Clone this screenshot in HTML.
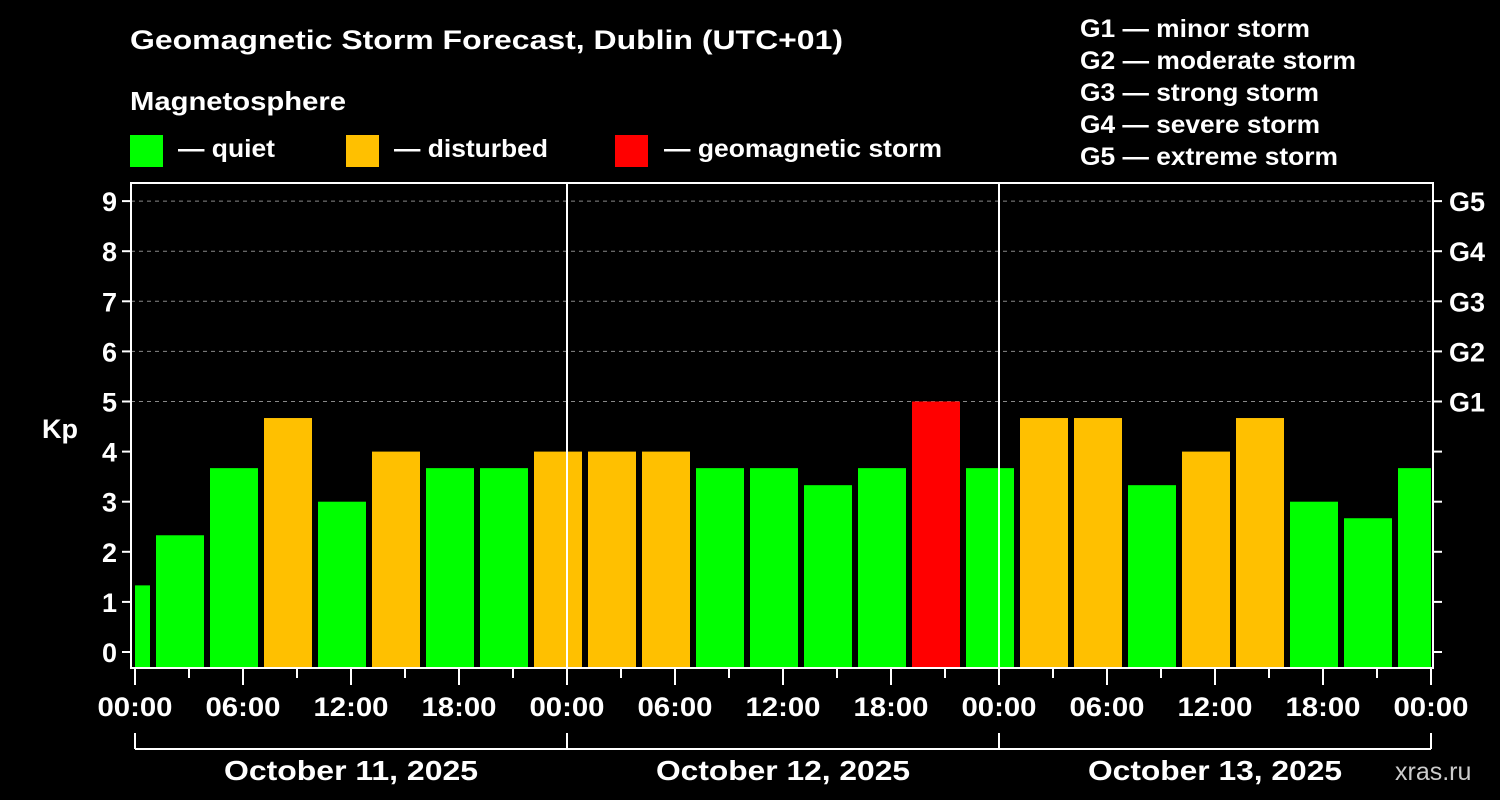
<!DOCTYPE html>
<html><head><meta charset="utf-8"><style>
html,body{margin:0;padding:0;background:#000;}
svg{display:block;font-family:"Liberation Sans",Arial,sans-serif;font-weight:bold;}
</style></head><body>
<svg id="chart" width="1500" height="800" xmlns="http://www.w3.org/2000/svg">
<rect width="1500" height="800" fill="#000"/>
<text x="130" y="49" fill="#fff" font-size="27" textLength="713" lengthAdjust="spacingAndGlyphs">Geomagnetic Storm Forecast, Dublin (UTC+01)</text>
<text x="130" y="110" fill="#fff" font-size="26" textLength="216" lengthAdjust="spacingAndGlyphs">Magnetosphere</text>
<g><rect x="130" y="135" width="33" height="32" fill="#00ff00"/><text x="178" y="157" fill="#fff" font-size="25" textLength="97" lengthAdjust="spacingAndGlyphs">— quiet</text></g>
<g><rect x="346" y="135" width="33" height="32" fill="#ffc000"/><text x="394" y="157" fill="#fff" font-size="25" textLength="154" lengthAdjust="spacingAndGlyphs">— disturbed</text></g>
<g><rect x="615" y="135" width="33" height="32" fill="#ff0000"/><text x="664" y="157" fill="#fff" font-size="25" textLength="278" lengthAdjust="spacingAndGlyphs">— geomagnetic storm</text></g>
<g fill="#fff" font-size="25">
<text x="1080" y="37" textLength="230" lengthAdjust="spacingAndGlyphs">G1 — minor storm</text>
<text x="1080" y="69" textLength="276" lengthAdjust="spacingAndGlyphs">G2 — moderate storm</text>
<text x="1080" y="101" textLength="239" lengthAdjust="spacingAndGlyphs">G3 — strong storm</text>
<text x="1080" y="133" textLength="240" lengthAdjust="spacingAndGlyphs">G4 — severe storm</text>
<text x="1080" y="165" textLength="258" lengthAdjust="spacingAndGlyphs">G5 — extreme storm</text>
</g>
<text x="1395" y="780" fill="#ccc" font-size="25" font-weight="normal">xras.ru</text>
<text x="42" y="438" fill="#fff" font-size="27">Kp</text>
<g id="plot"></g>
</svg>
<script>
const kpValues = [1.33,2.33,3.67,4.67,3,4,3.67,3.67,4,4,4,3.67,3.67,3.33,3.67,5,3.67,4.67,4.67,3.33,4,4.67,3,2.67,3.67];
const yTicks = [0,1,2,3,4,5,6,7,8,9];
const gLabels = ["G1","G2","G3","G4","G5"];
const xTickLabels = ["00:00","06:00","12:00","18:00","00:00","06:00","12:00","18:00","00:00","06:00","12:00","18:00","00:00"];
const dayLabels = ["October 11, 2025","October 12, 2025","October 13, 2025"];

const NS="http://www.w3.org/2000/svg";
const g=document.getElementById('plot');
const L=131,R=1433,T=183,B=668,X0=135,PXH=18;
const yS=v=>652-v*50.1;
const xS=h=>X0+h*PXH;
function mk(tag,attrs,parent){const e=document.createElementNS(NS,tag);for(const k in attrs)e.setAttribute(k,attrs[k]);(parent||g).appendChild(e);return e;}
for(let v=5;v<=9;v++){const e=mk('line',{x1:L,x2:R,y1:yS(v),y2:yS(v),stroke:'#888','stroke-dasharray':'4,4','stroke-width':1});

}
kpValues.forEach((v,i)=>{
  const c=-0.5+3*i;
  let x1=xS(c-1.5)+3,x2=xS(c+1.5)-3;
  x1=Math.max(x1,X0);x2=Math.min(x2,xS(72));
  const col=v>=5?'#ff0000':(v>=4?'#ffc000':'#00ff00');
  const r=mk('rect',{x:x1,y:yS(v),width:x2-x1,height:B-yS(v),fill:col});
  
  
});
[24,48].forEach(h=>{const e=mk('line',{x1:xS(h),x2:xS(h),y1:T,y2:B,stroke:'#fff','stroke-width':2});

});
const f=mk('rect',{x:L,y:T,width:R-L,height:B-T,fill:'none',stroke:'#fff','stroke-width':2});


yTicks.forEach(v=>{
  mk('line',{x1:L-9,x2:L,y1:yS(v),y2:yS(v),stroke:'#fff','stroke-width':2});
  mk('line',{x1:R,x2:R+9,y1:yS(v),y2:yS(v),stroke:'#fff','stroke-width':2});
  const t=mk('text',{x:L-14,y:yS(v)+10,fill:'#fff','font-size':27,'text-anchor':'end'});t.textContent=v;
  
  
});
gLabels.forEach((s,i)=>{const t=mk('text',{x:R+16,y:yS(5+i)+10,fill:'#fff','font-size':27});t.textContent=s;

});
for(let h=0;h<=72;h+=3){const major=h%6===0;mk('line',{x1:xS(h),x2:xS(h),y1:B,y2:major?685:678,stroke:'#fff','stroke-width':2});}
xTickLabels.forEach((s,i)=>{const t=mk('text',{x:xS(i*6),y:716,fill:'#fff','font-size':27,'text-anchor':'middle',textLength:75,lengthAdjust:'spacingAndGlyphs'});t.textContent=s;

});
mk('line',{x1:X0,x2:xS(72),y1:749,y2:749,stroke:'#fff','stroke-width':2});
for(let d=0;d<=3;d++)mk('line',{x1:xS(d*24),x2:xS(d*24),y1:733,y2:749,stroke:'#fff','stroke-width':2});
dayLabels.forEach((s,i)=>{const t=mk('text',{x:xS(i*24+12),y:780,fill:'#fff','font-size':28,'text-anchor':'middle',textLength:254,lengthAdjust:'spacingAndGlyphs'});t.textContent=s;

});
</script>
</body></html>
